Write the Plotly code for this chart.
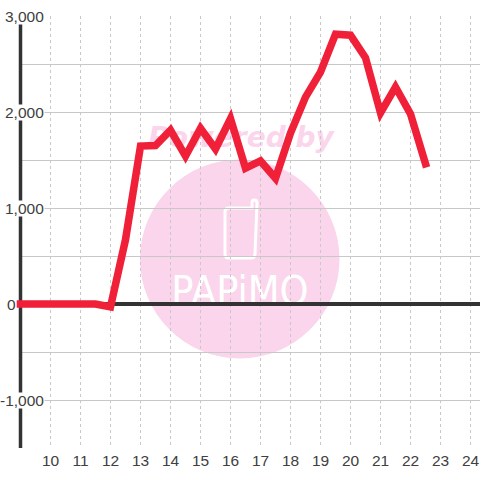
import plotly.graph_objects as go

hours = [9, 9.5, 10, 10.5, 11, 11.5, 12, 12.5, 13, 13.5, 14, 14.5, 15, 15.5, 16, 16.5,
         17, 17.5, 18, 18.5, 19, 19.5, 20, 20.5, 21, 21.5, 22, 22.5]
values = [0, 0, 0, 0, 0, 0, -30, 670, 1645, 1650, 1810, 1540, 1830, 1615, 1930, 1415,
          1490, 1310, 1780, 2155, 2415, 2810, 2800, 2565, 1990, 2260, 1980, 1460]
x_ticks = list(range(10, 25))
y_grid = [-1500, -1000, -500, 0, 500, 1000, 1500, 2000, 2500, 3000]
y_labels = {3000: "3,000", 2000: "2,000", 1000: "1,000", -1000: "-1,000"}
zero_label = "0"

W, H = 480, 480
L, R, T, B = 20, 0, 16, 32
RED, DARK, GRID, TEXT, PINK = "#f02038", "#333333", "#c8c8c8", "#404040", "#fbd5ec"
FONT = "Liberation Sans, Arial, sans-serif"
LABEL_SIZE = 15.5


def px(x):
    return (x - L) / (W - L - R)


def py(y):
    return 1 - (y - T) / (H - T - B)


def pth(cmds):
    out = []
    for c in cmds:
        out.append(c[0] + " ".join(f"{px(c[i]):.5f},{py(c[i + 1]):.5f}" for i in range(1, len(c), 2)))
    return " ".join(out)


def text_box(text, x0, y0, x1, y1, size, color, family=FONT):
    return dict(type="rect", xref="paper", yref="paper", layer="below",
                x0=px(x0), x1=px(x1), y0=py(y1), y1=py(y0),
                line=dict(width=0), fillcolor="rgba(0,0,0,0)",
                label=dict(text=text, textposition="middle center",
                           font=dict(family=family, size=size, color=color)))


phone = pth([("M", 225, 212), ("Q", 225, 208, 229, 208), ("L", 252, 208), ("L", 252, 203),
             ("Q", 252, 200, 254, 200), ("Q", 257, 200, 257, 203), ("L", 255, 254),
             ("Q", 255, 258, 251, 258), ("L", 229, 258), ("Q", 225, 258, 225, 254)]) + " Z"

shapes = [
    dict(type="circle", xref="paper", yref="paper", layer="below",
         x0=px(140), x1=px(339.5), y0=py(358.5), y1=py(159.5),
         fillcolor=PINK, line=dict(width=0)),
    dict(type="path", xref="paper", yref="paper", layer="below", path=phone,
         line=dict(color="white", width=3), fillcolor="rgba(0,0,0,0)"),
    text_box("<b><i>Powered by</i></b>", 130, 114, 352, 156, 28, PINK, "DejaVu Sans"),
    text_box("PAPiMO", 150, 266, 330, 310, 41, "white", "DejaVu Sans Condensed, DejaVu Sans"),
    dict(type="line", xref="x", yref="y", layer="between",
         x0=hours[0], x1=hours[0], y0=y_grid[0], y1=y_grid[-1],
         line=dict(color=DARK, width=3.5)),
]

annotations = [
    dict(x=0, xref="paper", y=v, yref="y", xanchor="right", yanchor="middle",
         xshift=25, text=t, showarrow=False, bgcolor="white", borderpad=0, height=15,
         font=dict(family=FONT, size=LABEL_SIZE, color=TEXT))
    for v, t in y_labels.items()
]
annotations.append(dict(x=0, xref="paper", y=0, yref="y", xanchor="right", yanchor="middle",
                        xshift=-3, text=zero_label, showarrow=False, borderpad=0,
                        font=dict(family=FONT, size=LABEL_SIZE, color=TEXT)))

fig = go.Figure(go.Scatter(x=hours, y=values, mode="lines", cliponaxis=False, hoverinfo="skip",
                           line=dict(color=RED, width=7.5)))
fig.update_layout(
    width=W, height=H, margin=dict(l=L, r=R, t=T, b=B, pad=0, autoexpand=False),
    paper_bgcolor="white", plot_bgcolor="white", showlegend=False,
    shapes=shapes, annotations=annotations,
    font=dict(family=FONT, size=LABEL_SIZE, color=TEXT),
    xaxis=dict(range=[9 - 0.5 / 30, 9 - 0.5 / 30 + (W - L - R) / 30], tickmode="array", tickvals=x_ticks,
               ticktext=[str(t) for t in x_ticks], showgrid=True, gridcolor=GRID, gridwidth=1,
               griddash="3px,3px", zeroline=False, showline=False, ticks="", fixedrange=True,
               ticklabelstandoff=1),
    yaxis=dict(range=[y_grid[0], y_grid[-1]], tickmode="array", tickvals=y_grid, showticklabels=False,
               showgrid=True, gridcolor=GRID, gridwidth=1, zeroline=True, zerolinecolor=DARK,
               zerolinewidth=3.5, showline=False, ticks="", fixedrange=True),
)
post = """
document.body.style.margin='0';
var s=document.createElement('style');
s.textContent='.js-line{stroke-linejoin:miter!important;stroke-linecap:square!important;stroke-miterlimit:4!important}'
 +' .cartesianlayer *{clip-path:none!important}'
 +' svg text{text-rendering:auto!important}';
document.head.appendChild(s);
document.querySelectorAll('.cartesianlayer [clip-path], .cartesianlayer [style*="clip-path"]').forEach(function(e){
  e.removeAttribute('clip-path'); e.style.clipPath='none';
});
"""
fig.write_html("out.html", post_script=post, config=dict(displayModeBar=False))
